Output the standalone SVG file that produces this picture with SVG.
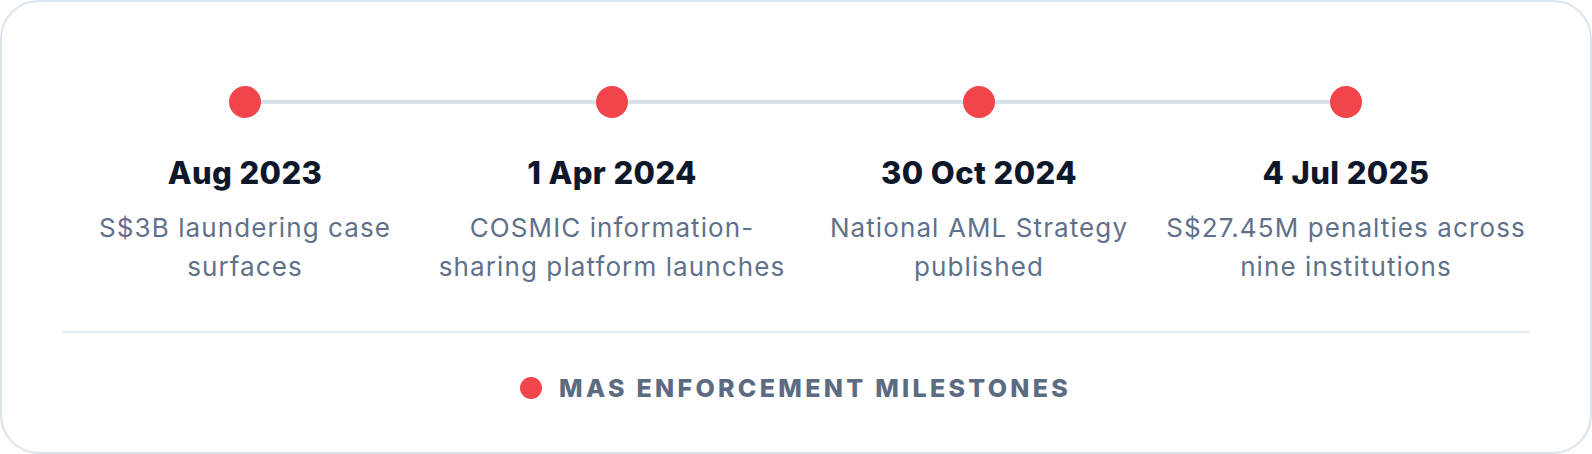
<svg xmlns="http://www.w3.org/2000/svg" width="1592" height="454" viewBox="0 0 1592 454">
<style>
.title{font-family:Inter,"Liberation Sans",sans-serif;font-weight:800;font-size:31px;fill:#0f172a;text-anchor:middle;letter-spacing:0.4px}
.desc{font-family:Inter,"Liberation Sans",sans-serif;font-weight:400;font-size:26px;fill:#5f718a;text-anchor:middle;letter-spacing:1.1px}
.dot{fill:#f2444b}
.legend{font-family:Inter,"Liberation Sans",sans-serif;font-weight:800;font-size:25px;fill:#5a6b82;letter-spacing:3.3px}
</style>
<rect x="1" y="1" width="1590" height="452" rx="38" fill="#ffffff" stroke="#dbe3ec" stroke-width="2"/>
<g id="connectors">
<line x1="245" y1="102" x2="1346" y2="102" stroke="#d8e0e9" stroke-width="4"/>
</g>
<g id="node-aug2023">
<circle class="dot" cx="245" cy="102" r="16"/>
<text class="title" x="245" y="184">Aug 2023</text>
<text class="desc" x="245" y="237">S$3B laundering case</text>
<text class="desc" x="245" y="276">surfaces</text>
</g>
<g id="node-apr2024">
<circle class="dot" cx="612" cy="102" r="16"/>
<text class="title" x="612" y="184">1 Apr 2024</text>
<text class="desc" x="612" y="237">COSMIC information-</text>
<text class="desc" x="612" y="276">sharing platform launches</text>
</g>
<g id="node-oct2024">
<circle class="dot" cx="979" cy="102" r="16"/>
<text class="title" x="979" y="184">30 Oct 2024</text>
<text class="desc" x="979" y="237">National AML Strategy</text>
<text class="desc" x="979" y="276">published</text>
</g>
<g id="node-jul2025">
<circle class="dot" cx="1346" cy="102" r="16"/>
<text class="title" x="1346" y="184">4 Jul 2025</text>
<text class="desc" x="1346" y="237">S$27.45M penalties across</text>
<text class="desc" x="1346" y="276">nine institutions</text>
</g>
<line x1="62" y1="332" x2="1530" y2="332" stroke="#e3ecef" stroke-width="2"/>
<g id="legend">
<circle class="dot" cx="531" cy="388" r="11"/>
<text class="legend" x="559" y="397">MAS ENFORCEMENT MILESTONES</text>
</g>
</svg>
